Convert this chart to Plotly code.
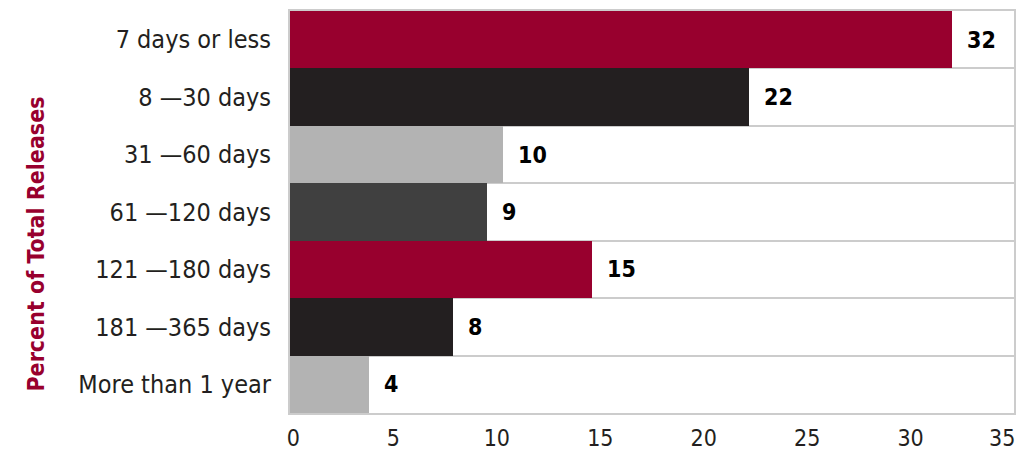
import plotly.graph_objects as go

categories = ["7 days or less", "8 \u201430 days", "31 \u201460 days", "61 \u2014120 days",
              "121 \u2014180 days", "181 \u2014365 days", "More than 1 year"]
values = [31.98, 22.18, 10.28, 9.5, 14.58, 7.88, 3.82]
value_labels = ["32", "22", "10", "9", "15", "8", "4"]
bar_colors = ["#98002E", "#231F20", "#B3B3B3", "#404040", "#98002E", "#231F20", "#B3B3B3"]
x_ticks = [0, 5, 10, 15, 20, 25, 30, 35]
x_tick_text = ["\u00a00", "5", "10", "15", "20", "25", "30", "35"]
y_title = "Percent of Total Releases"

FONT = "Liberation Sans Narrow, DejaVu Sans Condensed, Arial Narrow, sans-serif"
pos = list(range(len(categories)))

fig = go.Figure()
fig.add_trace(go.Bar(
    x=values, y=pos, orientation="h",
    marker=dict(color=bar_colors, line=dict(width=0)),
    hoverinfo="skip",
))

for p, v, t in zip(pos, values, value_labels):
    fig.add_annotation(x=v, y=p, text="<b>%s</b>" % t, showarrow=False,
                       xanchor="left", xshift=13,
                       font=dict(family=FONT, size=23, color="#000000"))

# last tick label kept inside the page (right-aligned at the axis end)
fig.add_annotation(x=x_ticks[-1], xref="x", y=0, yref="paper", yanchor="top",
                   xanchor="right", xshift=3, yshift=-10, showarrow=False,
                   text=x_tick_text[-1],
                   font=dict(family=FONT, size=23, color="#231F20"))

fig.add_annotation(xref="paper", yref="paper", x=-0.371, y=0.42,
                   text="<b>%s</b>" % y_title, textangle=-90, showarrow=False,
                   font=dict(family=FONT, size=23, color="#98002E"))

fig.update_layout(
    width=1019, height=455,
    margin=dict(l=290, r=5, t=11, b=42, autoexpand=False),
    paper_bgcolor="white", plot_bgcolor="white",
    bargap=0, showlegend=False,
    font=dict(family=FONT, size=25, color="#231F20"),
    xaxis=dict(range=[0, 35], tickvals=x_ticks[:-1], ticktext=x_tick_text[:-1],
               showgrid=False, zeroline=False, automargin=False,
               showline=True, linecolor="#CCCCCC", linewidth=2, mirror=True,
               ticks="", ticklabelstandoff=3, ticklabeloverflow="allow",
               tickfont=dict(family=FONT, size=23, color="#231F20")),
    yaxis=dict(range=[6.5, -0.5], tickvals=pos, ticktext=categories,
               showgrid=False, zeroline=False, automargin=False,
               showline=True, linecolor="#CCCCCC", linewidth=2, mirror=True,
               ticks="", ticklabelstandoff=12,
               tickfont=dict(family=FONT, size=25, color="#231F20"),
               minor=dict(tick0=0.5, dtick=1, showgrid=True,
                          gridcolor="#CCCCCC", gridwidth=2, ticks="")),
)

fig.write_html("out.html")
